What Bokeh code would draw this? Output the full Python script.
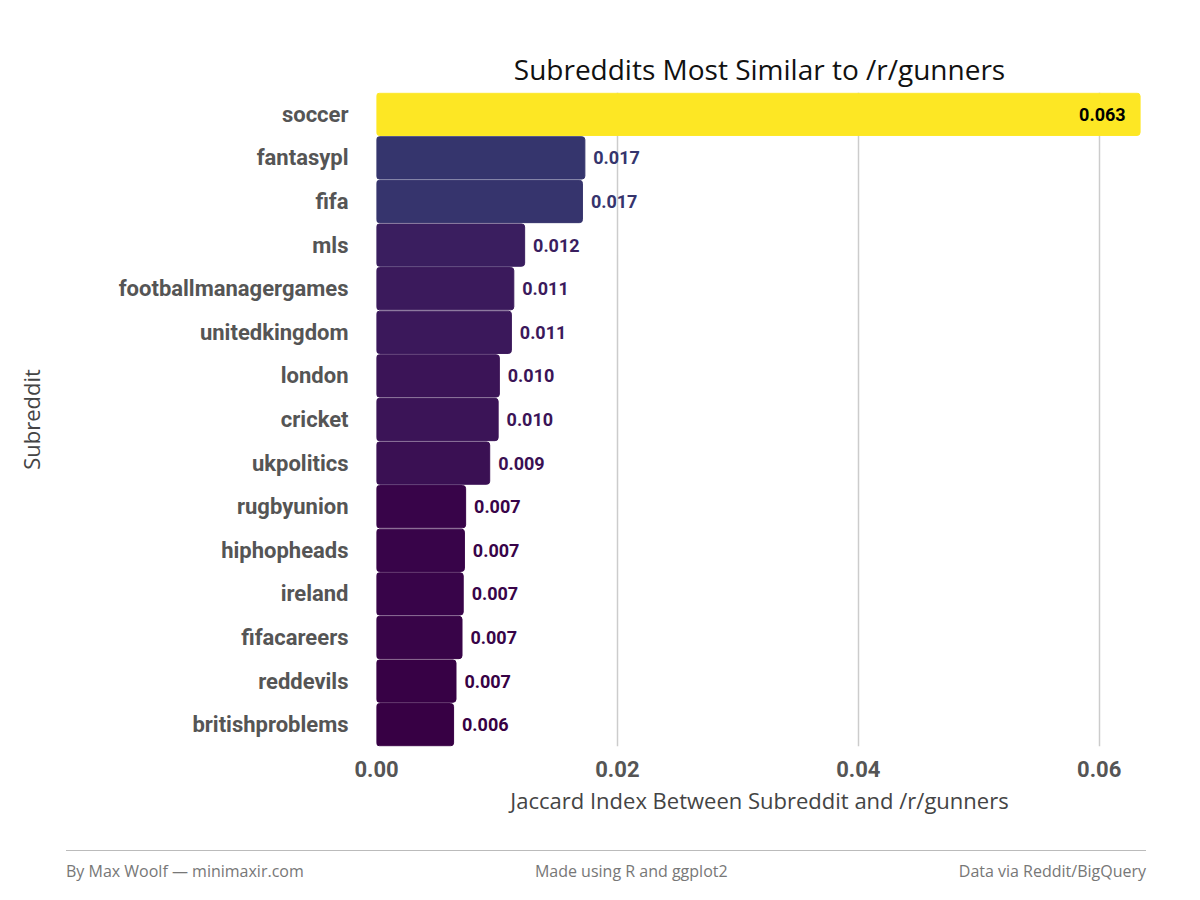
from bokeh.plotting import figure
from bokeh.models import ColumnDataSource, Range1d, Div, FixedTicker, CustomJSTickFormatter
from bokeh.layouts import column
from bokeh.palettes import Viridis256
from bokeh.core.properties import value
from bokeh.embed import file_html
from bokeh.resources import INLINE

subs = ["soccer", "fantasypl", "fifa", "mls", "footballmanagergames", "unitedkingdom",
        "london", "cricket", "ukpolitics", "rugbyunion", "hiphopheads", "ireland",
        "fifacareers", "reddevils", "britishproblems"]
vals = [0.0634, 0.0173, 0.0171, 0.0123, 0.0114, 0.0112, 0.0102, 0.0101, 0.0094,
        0.0074, 0.0073, 0.0072, 0.0071, 0.0066, 0.0064]

lo, hi = min(vals), max(vals)
def darken(h, f=0.82):
    r, g, b = int(h[1:3], 16), int(h[3:5], 16), int(h[5:7], 16)
    return "#%02x%02x%02x" % (int(r * f), int(g * f), int(b * f))
colors = [Viridis256[int(round((v - lo) / (hi - lo) * 255))] for v in vals]
colors = [c if v == hi else darken(c) for v, c in zip(vals, colors)]
label_colors = ["#000000" if v == hi else c for v, c in zip(vals, colors)]
label_x = [v - 0.0012 if v == hi else v + 0.0007 for v in vals]
align = ["right" if v == hi else "left" for v in vals]
texts = ["%.3f" % v for v in vals]

src = ColumnDataSource(dict(sub=subs, val=vals, color=colors, lc=label_colors,
                            lx=label_x, txt=texts, align=align))

FONT = "Roboto"
p = figure(y_range=list(reversed(subs)), x_range=Range1d(0, 0.0636),
           width=1192, height=844, output_backend="svg", toolbar_location=None,
           min_border_left=376, min_border_right=50, min_border_top=92, min_border_bottom=98,
           title="Subreddits Most Similar to /r/gunners")
p.hbar(y="sub", right="val", left=0, height=0.97, color="color", source=src, border_radius=3)
p.text(x="lx", y="sub", text="txt", text_color="lc", text_align="align", text_baseline="middle",
       text_font=value(FONT), text_font_style="bold", text_font_size="18px", source=src)

p.title.text_font = "Open Sans"
p.title.text_font_size = "28px"
p.title.text_font_style = "normal"
p.title.align = "center"
p.title.text_color = "#111111"
p.outline_line_color = None
p.background_fill_color = "white"
p.ygrid.grid_line_color = None
p.xgrid.grid_line_color = "#cccccc"
p.xgrid.grid_line_width = 1.5
p.xaxis.ticker = FixedTicker(ticks=[0, 0.02, 0.04, 0.06])
p.xaxis.formatter = CustomJSTickFormatter(code="return tick.toFixed(2);")
for ax in (p.xaxis, p.yaxis):
    ax.axis_line_color = None
    ax.major_tick_line_color = None
    ax.minor_tick_line_color = None
    ax.major_label_text_font = FONT
    ax.major_label_text_font_style = "bold"
    ax.major_label_text_font_size = "22px"
    ax.major_label_text_color = "#555555"
    ax.axis_label_text_font = "Open Sans"
    ax.axis_label_text_font_style = "normal"
    ax.axis_label_text_font_size = "22px"
    ax.axis_label_text_color = "#444444"
p.xaxis.axis_label = "Jaccard Index Between Subreddit and /r/gunners"
p.yaxis.axis_label = "Subreddit"
p.xaxis.major_label_standoff = 8
p.yaxis.major_label_standoff = 22
p.yaxis.axis_label_standoff = 70

footer = Div(width=1080, height=40, margin=(6, 0, 0, 66),
             text="<div style='border-top:1.5px solid #bbb;padding-top:9px;display:flex;justify-content:space-between;"
                  "font-family:Open Sans;font-size:16px;color:#777;width:1080px'>"
                  "<span>By Max Woolf — minimaxir.com</span><span>Made using R and ggplot2</span>"
                  "<span>Data via Reddit/BigQuery</span></div>")

open("out.html", "w").write(file_html(column(p, footer), INLINE))
